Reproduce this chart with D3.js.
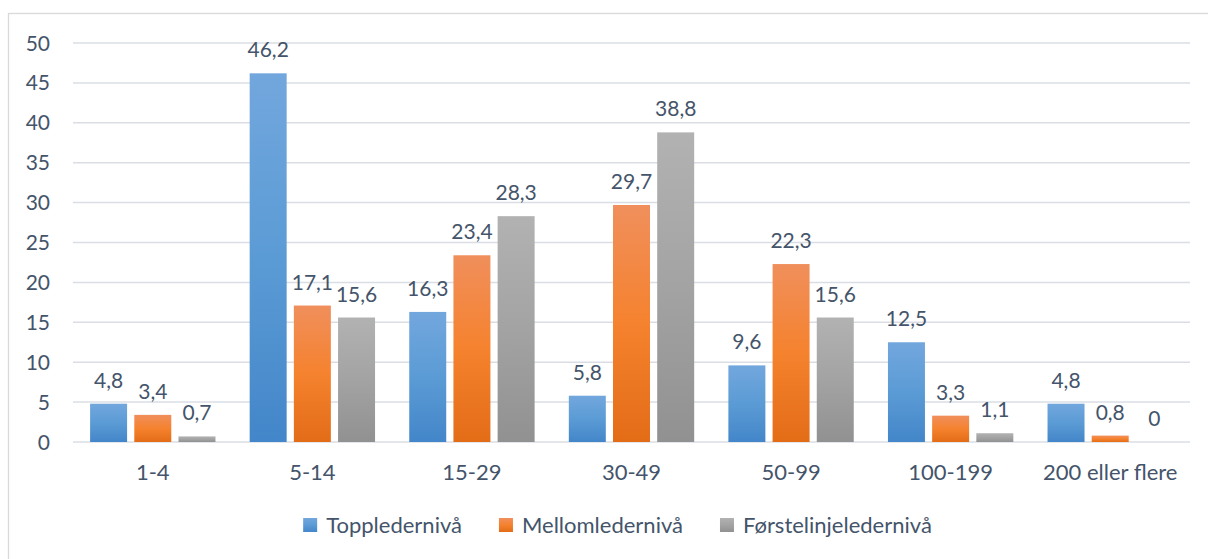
<!DOCTYPE html>
<html>
<head>
<meta charset="utf-8">
<script src="https://cdn.jsdelivr.net/npm/d3@7"></script>
<style>
  body { margin: 0; background: #fff; }
  svg text { font-family: Lato, "Noto Sans", sans-serif; fill: #44546a; }
</style>
</head>
<body>
<div id="chart"></div>
<script>
// categories (number of employees) and the three series
let categories = ["1-4", "5-14", "15-29", "30-49", "50-99", "100-199", "200 eller flere"];
let seriesNames = ["Toppledernivå", "Mellomledernivå", "Førstelinjeledernivå"];
let toppleder = [4.8, 46.2, 16.3, 5.8, 9.6, 12.5, 4.8];
let mellomleder = [3.4, 17.1, 23.4, 29.7, 22.3, 3.3, 0.8];
let forstelinje = [0.7, 15.6, 28.3, 38.8, 15.6, 1.1, 0];
let yTicks = [0, 5, 10, 15, 20, 25, 30, 35, 40, 45, 50];

let seriesValues = [toppleder, mellomleder, forstelinje];

let width = 1208, height = 559;
let margin = {top: 43, right: 18, bottom: 117, left: 73};

let svg = d3.select("#chart").append("svg")
    .attr("width", width)
    .attr("height", height);

// gradients (light at top, darker at bottom), one per series
let gradStops = [
    ["#72a7dd", "#5b9bd5", "#4386c9"],
    ["#f08f5c", "#f5822e", "#e36c17"],
    ["#b2b2b2", "#a3a3a3", "#919191"]
];
let defs = svg.append("defs");
gradStops.forEach(function(stops, i){
    let g = defs.append("linearGradient")
        .attr("id", "grad" + i)
        .attr("x1", 0).attr("y1", 0)
        .attr("x2", 0).attr("y2", 1);
    g.append("stop").attr("offset", "0%").attr("stop-color", stops[0]);
    g.append("stop").attr("offset", "50%").attr("stop-color", stops[1]);
    g.append("stop").attr("offset", "100%").attr("stop-color", stops[2]);
});

// chart border
svg.append("rect")
    .attr("x", 8.5).attr("y", 13.5)
    .attr("width", 1220).attr("height", 580)
    .attr("fill", "none")
    .attr("stroke", "#d9d9d9")
    .attr("stroke-width", 1.3);

let x0 = d3.scaleBand()
    .domain(categories)
    .range([margin.left, width - margin.right]);

let x1 = d3.scaleBand()
    .domain(d3.range(seriesNames.length))
    .range([0, x0.bandwidth()])
    .paddingInner(0.163)
    .paddingOuter(0.387);

let y = d3.scaleLinear()
    .domain([0, 50])
    .range([height - margin.bottom, margin.top]);

// gridlines
svg.append("g").selectAll("line").data(yTicks).enter().append("line")
    .attr("x1", margin.left)
    .attr("x2", width - margin.right)
    .attr("y1", d => y(d))
    .attr("y2", d => y(d))
    .attr("stroke", "#dadee4")
    .attr("stroke-width", 1.5);

// y tick labels
svg.append("g").selectAll("text").data(yTicks).enter().append("text")
    .attr("x", 50)
    .attr("y", d => y(d))
    .attr("dy", "0.36em")
    .attr("text-anchor", "end")
    .attr("font-size", 21)
    .text(d => d);

let fmt = d => String(d).replace(".", ",");

// bars
let groups = svg.append("g").selectAll("g").data(categories).enter().append("g")
    .attr("transform", d => "translate(" + x0(d) + ",0)");

groups.selectAll("rect")
    .data((d, ci) => seriesValues.map((vals, si) => ({s: si, v: vals[ci]})))
    .enter().append("rect")
    .attr("x", d => x1(d.s))
    .attr("width", x1.bandwidth())
    .attr("y", d => y(d.v))
    .attr("height", d => y(0) - y(d.v))
    .attr("fill", d => "url(#grad" + d.s + ")");

groups.selectAll("text.label")
    .data((d, ci) => seriesValues.map((vals, si) => ({s: si, v: vals[ci]})))
    .enter().append("text")
    .attr("class", "label")
    .attr("x", d => x1(d.s) + x1.bandwidth() / 2)
    .attr("y", d => y(d.v) - 16)
    .attr("text-anchor", "middle")
    .attr("font-size", 21)
    .text(d => fmt(d.v));

// category labels
svg.append("g").selectAll("text").data(categories).enter().append("text")
    .attr("x", d => x0(d) + x0.bandwidth() / 2)
    .attr("y", 480)
    .attr("text-anchor", "middle")
    .attr("font-size", 22)
    .text(d => d);

// legend
let legend = svg.append("g");
let lx = 0;
seriesNames.forEach(function(name, i){
    legend.append("rect")
        .attr("x", lx).attr("y", 518)
        .attr("width", 14).attr("height", 14)
        .attr("fill", "url(#grad" + i + ")");
    let t = legend.append("text")
        .attr("x", lx + 23)
        .attr("y", 533)
        .attr("font-size", 22)
        .text(name);
    lx += 23 + t.node().getComputedTextLength() + 37;
});
// centre the legend where the reference has it
legend.attr("transform", "translate(" + (617.5 - (lx - 37) / 2) + ",0)");
</script>
</body>
</html>
